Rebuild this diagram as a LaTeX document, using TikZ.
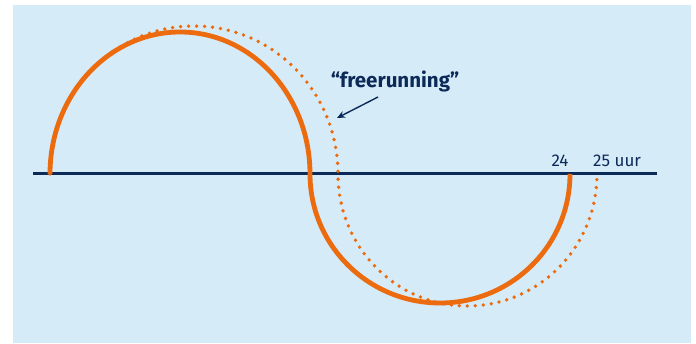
\documentclass[tikz,border=0pt]{standalone}
\usepackage{fontspec}
\setmainfont{Fira Sans}
\usetikzlibrary{arrows.meta}
\definecolor{navy}{HTML}{0C2A58}
\definecolor{ritme}{HTML}{EC6B0E}
\definecolor{achter}{HTML}{D6EBF8}
\begin{document}
\begin{tikzpicture}[x=1pt,y=1pt,
  cyclus/.style={ritme,line width=4.8pt},
  vrij/.style={ritme,line width=3.8pt,line cap=round,dash pattern=on 0pt off 8pt},
  as/.style={navy,line width=3pt},
  tekst/.style={navy,inner sep=0pt,font=\fontsize{17}{17}\selectfont}]
\useasboundingbox (0,0) rectangle (696,343);
\fill[achter] (13,0) rectangle (691,338);
\coordinate (o) at (50,169);
\coordinate (a0) at (33,169);
\coordinate (a1) at (657,169);
\draw[as] (a0) -- (a1);
\draw[vrij] (o) arc[start angle=180,end angle=0,x radius=144,y radius=148]
  arc[start angle=180,end angle=360,x radius=129.5,y radius=132];
\draw[cyclus] (o) arc[start angle=180,end angle=0,x radius=130,y radius=142]
  arc[start angle=180,end angle=360,x radius=130,y radius=129];
\node[tekst,anchor=base] (t24) at (560,176) {24};
\node[tekst,anchor=base west] (t25) at (593,176) {25 uur};
\node[tekst,anchor=base,font=\fontsize{20.5}{20.5}\selectfont\bfseries] (vr) at (395,255) {“freerunning”};
\coordinate (p0) at (378,246);
\coordinate (p1) at (337,225);
\draw[navy,line width=1.4pt,-{Stealth[length=8pt,width=7pt]}] (p0) -- (p1);
\end{tikzpicture}
\end{document}
